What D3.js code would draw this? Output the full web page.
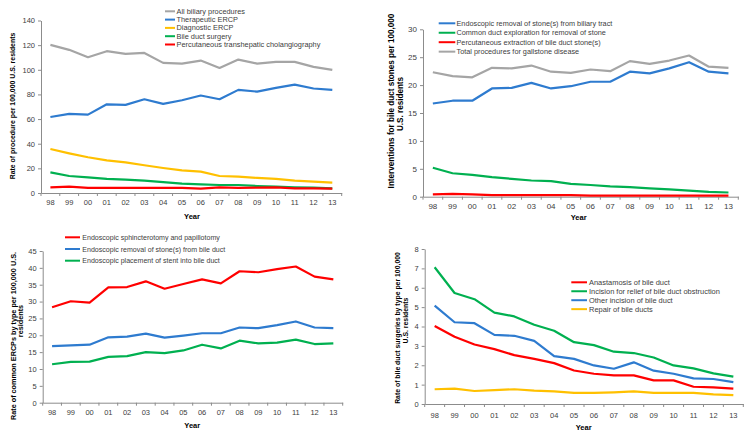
<!DOCTYPE html>
<html><head><meta charset="utf-8">
<script src="https://cdn.jsdelivr.net/npm/d3@7"></script>
<style>
body{margin:0;background:#fff;}
svg{display:block;}
text{font-family:"Liberation Sans",Arial,sans-serif;}
</style></head>
<body>
<svg id="c" width="754" height="438"></svg>
<script>
const years = ["98","99","00","01","02","03","04","05","06","07","08","09","10","11","12","13"];

// Panel A: rate of procedure
const allBiliary   = [120.2,116.2,110.2,115.1,112.9,113.7,105.6,105.0,107.5,101.5,108.3,105.0,106.4,106.4,102.4,99.9];
const therapERCP   = [61.7,64.2,63.6,72.0,71.5,76.1,72.3,75.3,79.1,76.1,83.7,82.3,85.3,88.0,84.8,83.7];
const diagERCP     = [35.7,32.2,29.0,26.5,24.9,22.5,20.3,18.4,17.3,13.8,13.3,12.2,11.4,10.0,9.2,8.4];
const bileSurgery  = [16.8,13.8,12.7,11.4,10.8,10.0,8.9,7.6,7.0,6.5,6.5,5.7,5.1,4.6,4.3,3.8];
const ptc          = [4.6,5.1,4.1,4.1,4.1,4.1,4.1,4.1,3.5,4.6,4.1,4.3,4.6,3.8,3.8,3.5];

// Panel B: interventions for bile duct stones
const endoRemovalTract = [16.7,17.2,17.2,19.4,19.5,20.4,19.4,19.8,20.6,20.6,22.4,22.1,23.0,24.1,22.4,22.1];
const commonDuctExpl   = [5.2,4.2,3.9,3.5,3.2,2.9,2.8,2.3,2.1,1.85,1.7,1.5,1.3,1.1,0.85,0.75];
const percExtraction   = [0.4,0.5,0.4,0.3,0.3,0.3,0.3,0.3,0.2,0.2,0.2,0.2,0.2,0.2,0.2,0.2];
const totalGallstone   = [22.3,21.6,21.4,23.1,23.0,23.5,22.4,22.2,22.8,22.5,24.3,23.8,24.4,25.3,23.3,23.1];

// Panel C: common ERCPs by type
const sphincterotomy   = [28.3,30.1,29.7,34.2,34.3,36.0,33.8,35.2,36.6,35.4,39.0,38.7,39.6,40.4,37.4,36.6];
const endoRemovalDuct  = [16.8,17.0,17.2,19.4,19.6,20.5,19.3,19.9,20.6,20.6,22.3,22.1,23.0,24.1,22.3,22.1];
const stentPlacement   = [11.4,12.1,12.2,13.6,13.8,15.0,14.7,15.5,17.2,16.1,18.4,17.6,17.8,18.7,17.4,17.6];

// Panel D: bile duct surgeries by type
const anastomosis      = [4.03,3.47,3.07,2.83,2.52,2.33,2.11,1.73,1.56,1.48,1.48,1.22,1.22,0.89,0.86,0.79];
const incisionRelief   = [7.06,5.73,5.41,4.72,4.52,4.09,3.78,3.19,3.04,2.70,2.63,2.40,1.99,1.84,1.58,1.41];
const otherIncision    = [5.08,4.22,4.17,3.57,3.52,3.26,2.47,2.33,1.99,1.82,2.15,1.72,1.56,1.32,1.29,1.13];
const repairDucts      = [0.76,0.79,0.67,0.72,0.76,0.69,0.65,0.57,0.57,0.60,0.65,0.57,0.57,0.57,0.50,0.46];

const C = {gray:"#a5a5a5", blue:"#2e7bcf", yellow:"#ffc000", green:"#00b050", red:"#ff0000"};

const panels = [
  {
    x0:41, x1:341.7, yb:193, yt:20.5, max:140, step:20, tickFs:7.5,
    title:["Rate of procedure per 100,000 U.S. residents"], titleX:[12.7], titleY:[106], titleW:147,
    yearX:192, yearY:216, tickY:202.3,
    legend:{lx0:165, lx1:175, tx:176.5, y0:11.3, dy:8.3, w:144},
    series:[
      {name:"All biliary procedures", v:allBiliary, c:C.gray},
      {name:"Therapeutic ERCP", v:therapERCP, c:C.blue},
      {name:"Diagnostic ERCP", v:diagERCP, c:C.yellow},
      {name:"Bile duct surgery", v:bileSurgery, c:C.green},
      {name:"Percutaneous transhepatic cholangiography", v:ptc, c:C.red}
    ],
    drawOrder:[0,1,2,3,4]
  },
  {
    x0:423, x1:738.3, yb:196.7, yt:29.3, max:30, step:5, tickFs:8,
    title:["Interventions for bile duct stones per 100,000","U.S. residents"], titleX:[391.5,400], titleY:[101,104], titleW:175,
    yearX:578.7, yearY:217, tickY:206.7,
    legend:{lx0:438.7, lx1:455.3, tx:456.5, y0:23.3, dy:9.45, w:156},
    series:[
      {name:"Endoscopic removal of stone(s) from biliary tract", v:endoRemovalTract, c:C.blue},
      {name:"Common duct exploration for removal of stone", v:commonDuctExpl, c:C.green},
      {name:"Percutaneous extraction of bile duct stone(s)", v:percExtraction, c:C.red},
      {name:"Total procedures for gallstone disease", v:totalGallstone, c:C.gray}
    ],
    drawOrder:[3,0,1,2]
  },
  {
    x0:42.7, x1:342.7, yb:402.7, yt:251, max:45, step:5, tickFs:7.5,
    title:["Rate of common ERCPs by type per 100,000 U.S.","residents"], titleX:[13.3,20.9], titleY:[336,321], titleW:168,
    yearX:192.3, yearY:425.5, tickY:412.3,
    legend:{lx0:65, lx1:80, tx:82.3, y0:237.3, dy:11.7, w:143},
    series:[
      {name:"Endoscopic sphincterotomy and papillotomy", v:sphincterotomy, c:C.red},
      {name:"Endoscopic removal of stone(s) from bile duct", v:endoRemovalDuct, c:C.blue},
      {name:"Endoscopic placement of stent into bile duct", v:stentPlacement, c:C.green}
    ],
    drawOrder:[0,1,2]
  },
  {
    x0:424.7, x1:743.3, yb:404, yt:249, max:8, step:1, tickFs:7.5,
    title:["Rate of bile duct surgeries by type per 100,000","U.S. residents"], titleX:[397,405.3], titleY:[328,320.5], titleW:152,
    yearX:583.7, yearY:427.5, tickY:415,
    legend:{lx0:571.3, lx1:587, tx:589, y0:282.3, dy:8.95, w:131},
    series:[
      {name:"Anastamosis of bile duct", v:anastomosis, c:C.red},
      {name:"Incision for relief of bile duct obstruction", v:incisionRelief, c:C.green},
      {name:"Other incision of bile duct", v:otherIncision, c:C.blue},
      {name:"Repair of bile ducts", v:repairDucts, c:C.yellow}
    ],
    drawOrder:[3,0,2,1]
  }
];

const svg = d3.select("#c");
const axisColor = "#8c8c8c";
const textColor = "#404040";

// scale a group of texts so the widest one spans the target width
function fitGroup(sel, target, base) {
  sel.style("font-size", base + "px");
  let maxW = 0;
  sel.each(function(){ maxW = Math.max(maxW, this.getComputedTextLength()); });
  if (maxW > 0) sel.style("font-size", (base * target / maxW).toFixed(2) + "px");
}

panels.forEach(p => {
  const g = svg.append("g");
  const x = d3.scaleBand().domain(years).range([p.x0, p.x1]);
  const y = d3.scaleLinear().domain([0, p.max]).range([p.yb, p.yt]);
  const yTicks = d3.range(0, p.max + p.step/2, p.step);

  // Y axis
  const ya = g.append("g").attr("transform", `translate(${p.x0},0)`)
    .call(d3.axisLeft(y).tickValues(yTicks).tickSize(3).tickSizeOuter(0).tickPadding(3));
  ya.select(".domain").attr("stroke", axisColor);
  ya.selectAll(".tick line").attr("stroke", axisColor);
  ya.selectAll(".tick text").attr("fill", textColor).style("font-size", p.tickFs + "px");

  // X axis (labels at band centres, ticks at band edges)
  const xa = g.append("g").attr("transform", `translate(0,${p.yb})`)
    .call(d3.axisBottom(x).tickSize(0).tickSizeOuter(0).tickPadding(0));
  xa.select(".domain").attr("stroke", axisColor);
  xa.selectAll(".tick text").attr("fill", textColor).style("font-size", p.tickFs + "px")
    .attr("dy", null).attr("y", p.tickY - p.yb).attr("dominant-baseline", "central");
  const edges = years.map(d => x(d)).concat([x(years[years.length-1]) + x.bandwidth()]);
  g.append("g").selectAll("line").data(edges).join("line")
    .attr("x1", d => d).attr("x2", d => d)
    .attr("y1", p.yb).attr("y2", p.yb + 3)
    .attr("stroke", axisColor);

  // Lines
  const line = d3.line().x((d,i) => x(years[i]) + x.bandwidth()/2).y(d => y(d));
  p.drawOrder.forEach(k => {
    const s = p.series[k];
    g.append("path").datum(s.v).attr("d", line)
      .attr("fill", "none").attr("stroke", s.c).attr("stroke-width", 2.2)
      .attr("stroke-linejoin", "round");
  });

  // Legend
  const L = p.legend;
  const legTexts = [];
  p.series.forEach((s, i) => {
    const yy = L.y0 + i * L.dy;
    g.append("line").attr("x1", L.lx0).attr("x2", L.lx1).attr("y1", yy).attr("y2", yy)
      .attr("stroke", s.c).attr("stroke-width", 2);
    legTexts.push(g.append("text").attr("x", L.tx).attr("y", yy).attr("dominant-baseline", "central")
      .attr("fill", textColor).text(s.name).node());
  });
  fitGroup(d3.selectAll(legTexts), L.w, 7);

  // Axis titles
  const tt = [];
  p.title.forEach((t, i) => {
    tt.push(g.append("text")
      .attr("transform", `translate(${p.titleX[i]},${p.titleY[i]}) rotate(-90)`)
      .attr("text-anchor", "middle").attr("dominant-baseline", "central")
      .attr("fill", "#000").style("font-weight", "bold").text(t).node());
  });
  fitGroup(d3.selectAll(tt), p.titleW, 7);

  g.append("text").attr("x", p.yearX).attr("y", p.yearY)
    .attr("text-anchor", "middle").attr("dominant-baseline", "central")
    .attr("fill", "#000").style("font-size", "7.5px").style("font-weight", "bold").text("Year");
});
</script>
</body></html>
